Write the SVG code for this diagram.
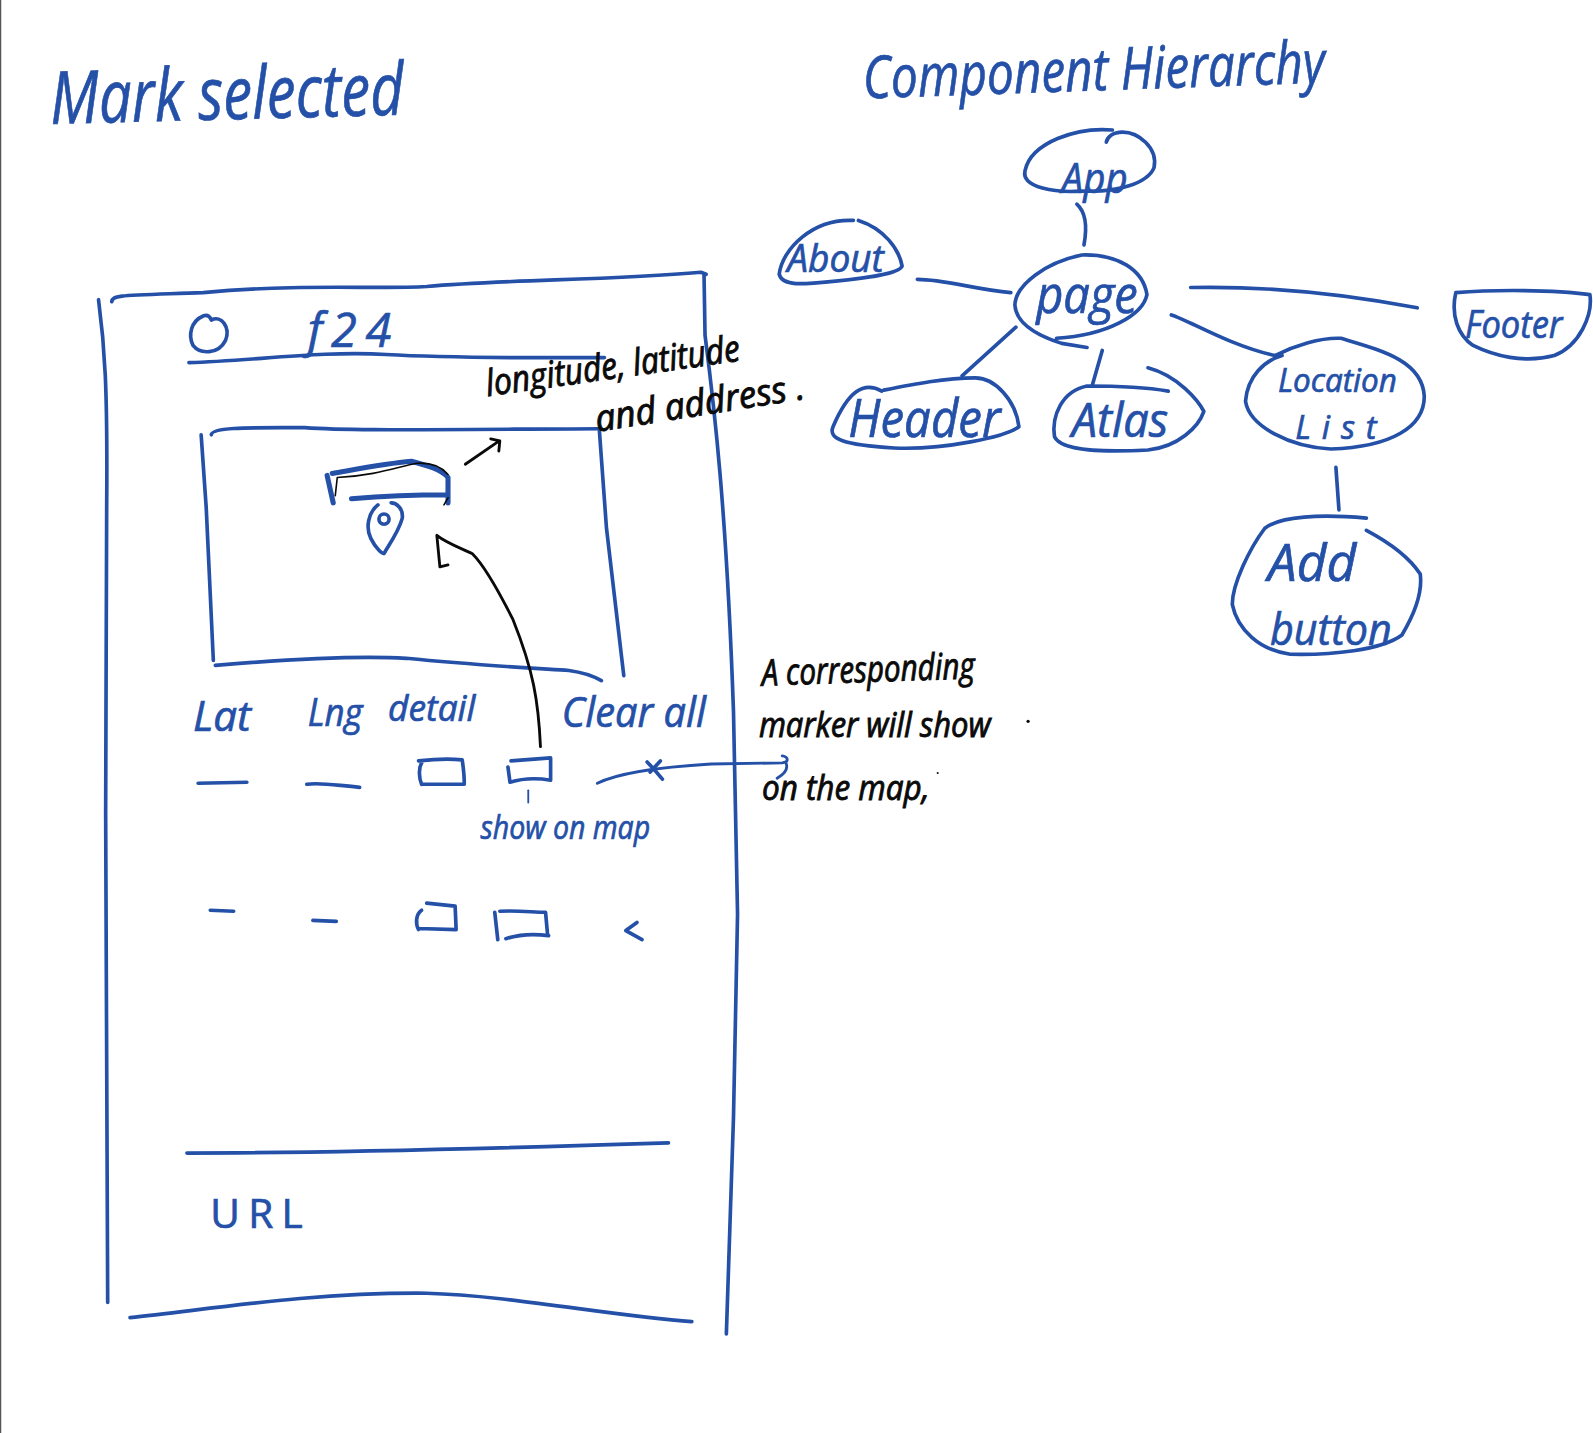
<svg xmlns="http://www.w3.org/2000/svg" width="1593" height="1433" viewBox="0 0 1593 1433">
<style>
.b{fill:none;stroke:#2450a8;stroke-width:3.6;stroke-linecap:round;stroke-linejoin:round}
.k{fill:none;stroke:#0a0a0a;stroke-width:2.8;stroke-linecap:round;stroke-linejoin:round}
text{font-family:"Open Sans","Noto Sans",sans-serif;font-style:italic;fill:#2450a8;stroke:#2450a8;stroke-width:.7;text-anchor:start}
text.t{fill:#0a0a0a;stroke:#0a0a0a;stroke-width:.9}
</style>
<rect width="1593" height="1433" fill="#ffffff"/>
<line x1="0.5" y1="0" x2="0.5" y2="1433" stroke="#555555" stroke-width="1.5"/>
<g transform="scale(1.0159)">
<g id="titles">
<text x="50" y="122" font-size="72" textLength="348" lengthAdjust="spacingAndGlyphs" transform="rotate(-1.5 50 122)">Mark selected</text>
<text x="850" y="97" font-size="58" textLength="455" lengthAdjust="spacingAndGlyphs" transform="rotate(-2 850 97)">Component Hierarchy</text>
</g>
<g id="wireframe">
<path class="b" d="M97 295C103 340 106 380 105 500L104 800L106 1282"/>
<path class="b" d="M110 297C111 290 120 291 200 288C300 279 370 285 420 282C500 275 600 276 690 268L695 270"/>
<path class="b" d="M693 270L694 330C703 400 715 500 722 700L726 900L722 1100L715 1313"/>
<path class="b" d="M128 1297C200 1290 300 1272 420 1273C500 1275 600 1295 681 1301"/>
<path class="b" d="M200 311C188 316 185 330 190 340C197 349 215 349 222 335C227 322 218 310 208 315C206 310 203 310 200 311"/>
<path class="b" d="M186 357C250 355 320 345 380 349C450 353 520 352 595 352"/>
<path class="b" d="M198 428L203 500L210 650"/>
<path class="b" d="M208 428C208 420 250 421 300 421C340 424 400 423 590 422"/>
<path class="b" d="M590 424L597 520L614 665"/>
<path class="b" d="M212 655C270 650 350 645 400 648C470 655 530 658 560 660C575 662 585 666 592 670"/>
<path class="b" style="stroke-width:5" d="M327 466C350 462 380 456 405 454C420 458 435 462 441 470L441 495M346 491C380 488 410 487 441 487M322 468L328 495"/>
<path class="b" d="M372 497C362 505 360 520 365 530C370 540 376 545 378 545C380 540 392 525 396 510C397 500 390 495 385 495"/>
<circle class="b" cx="378" cy="511" r="5"/>
<path class="b" d="M195 771L243 770M302 772C315 770 330 773 354 775"/>
<path class="b" d="M416 749C412 755 412 765 415 772M412 749C430 747 445 747 455 748C456 755 457 765 457 771M415 772L457 772"/>
<path class="b" d="M500 755L502 770M503 749L542 746L542 768M502 770C515 766 530 766 542 768"/>
<path class="b" style="stroke-width:1.8" d="M520 778L520 790"/>
<path class="b" d="M637 750C642 755 648 762 652 767M650 749L640 760"/>
<path class="b" d="M207 896L230 897M308 906L331 907"/>
<path class="b" d="M415 896C409 900 409 910 412 915M420 889L448 892L449 915M412 914L449 915"/>
<path class="b" d="M487 898L490 925M492 897C510 896 525 898 537 898L539 920M498 924C510 920 525 919 540 921"/>
<path class="b" d="M627 908L616 916L632 925"/>
<path class="b" d="M184 1135C300 1135 500 1130 658 1125"/>
<text x="303" y="342" font-size="46" textLength="82" lengthAdjust="spacing">f24</text>
<text x="190" y="720" font-size="42" textLength="57" lengthAdjust="spacingAndGlyphs">Lat</text>
<text x="303" y="715" font-size="38" textLength="54" lengthAdjust="spacingAndGlyphs">Lng</text>
<text x="382" y="710" font-size="36" textLength="86" lengthAdjust="spacingAndGlyphs">detail</text>
<text x="553" y="716" font-size="42" textLength="142" lengthAdjust="spacingAndGlyphs">Clear all</text>
<text x="473" y="826" font-size="32" textLength="167" lengthAdjust="spacingAndGlyphs">show on map</text>
<text x="207" y="1209" font-size="40" textLength="91" lengthAdjust="spacing" style="font-style:normal">URL</text>
</g>
<g id="annotations">
<path class="k" style="stroke-width:1.6" d="M330 488L332 470C370 468 390 460 410 456C425 455 435 460 441 467M441 490L437 497"/>
<path class="k" d="M458 457L490 435M483 432L492 434L491 444"/>
<path class="k" d="M532 735C530 690 525 660 505 610C490 580 475 555 465 545C455 540 440 535 430 527L433 558L441 556"/>
<path class="b" style="stroke-width:2.8" d="M588 771C610 760 650 755 700 752L770 751C777 750 776 745 770 744M774 752C776 758 772 762 765 766"/>
<text class="t" x="480" y="390" font-size="36" textLength="252" lengthAdjust="spacingAndGlyphs" transform="rotate(-8 480 390)">longitude, latitude</text>
<text class="t" x="588" y="425" font-size="36" textLength="208" lengthAdjust="spacingAndGlyphs" transform="rotate(-9 588 425)">and address .</text>
<text class="t" x="750" y="675" font-size="36" textLength="210" lengthAdjust="spacingAndGlyphs" transform="rotate(-2 750 675)">A corresponding</text>
<text class="t" x="747" y="725" font-size="34" textLength="228" lengthAdjust="spacingAndGlyphs">marker will show</text>
<text class="t" x="750" y="787" font-size="34" textLength="165" lengthAdjust="spacingAndGlyphs">on the map,</text>
<circle cx="1012" cy="710" r="1.6" fill="#0a0a0a"/>
<circle cx="923" cy="761" r="1" fill="#0a0a0a"/>
</g>
<g id="connectors">
<path class="b" d="M1060 201C1070 210 1070 225 1067 241"/>
<path class="b" d="M903 275C930 275 960 285 995 288"/>
<path class="b" d="M1000 322L947 370"/>
<path class="b" d="M1085 345L1075 380"/>
<path class="b" d="M1172 283C1220 282 1300 285 1395 303"/>
<path class="b" d="M1153 310C1170 315 1210 340 1255 350"/>
<path class="b" d="M1315 460L1318 502"/>
</g>
<g id="node-app">
<path class="b" d="M1095 128C1060 125 1015 140 1009 168C1005 185 1040 190 1065 188C1100 190 1130 180 1136 165C1140 145 1120 130 1105 130C1095 130 1090 135 1089 140"/>
<text x="1045" y="190" font-size="42" textLength="65" lengthAdjust="spacingAndGlyphs">App</text>
</g>
<g id="node-about">
<path class="b" d="M840 217C800 215 770 245 767 270C770 282 790 280 820 277C850 274 885 270 888 262C885 245 870 225 845 217"/>
<text x="775" y="268" font-size="38" textLength="95" lengthAdjust="spacingAndGlyphs">About</text>
</g>
<g id="node-page">
<path class="b" d="M1065 251C1030 258 1000 280 999 300C1000 318 1020 330 1045 338L1070 342M1040 333C1090 330 1125 310 1129 290C1125 265 1100 250 1065 251"/>
<text x="1020" y="308" font-size="50" textLength="100" lengthAdjust="spacingAndGlyphs">page</text>
</g>
<g id="node-header">
<path class="b" d="M868 385C850 375 835 385 820 420C815 432 830 438 880 441C930 443 990 430 1003 420C1000 395 980 372 960 372C930 372 900 378 870 384"/>
<text x="835" y="430" font-size="52" textLength="150" lengthAdjust="spacingAndGlyphs">Header</text>
</g>
<g id="node-atlas">
<path class="b" d="M1130 362C1160 370 1180 395 1185 405C1180 420 1160 440 1130 443C1090 445 1045 445 1038 430C1035 410 1045 385 1070 380C1090 380 1120 380 1150 385"/>
<text x="1055" y="430" font-size="46" textLength="95" lengthAdjust="spacingAndGlyphs">Atlas</text>
</g>
<g id="node-location-list">
<path class="b" d="M1255 350C1275 340 1300 332 1320 333C1360 345 1400 355 1402 390C1402 420 1370 440 1310 442C1270 440 1230 420 1226 395C1228 370 1245 355 1262 350"/>
<text x="1258" y="386" font-size="32" textLength="117" lengthAdjust="spacingAndGlyphs">Location</text>
<text x="1275" y="432" font-size="32" textLength="80" lengthAdjust="spacing">List</text>
</g>
<g id="node-add-button">
<path class="b" d="M1345 510C1300 506 1260 508 1245 520C1230 540 1213 575 1213 595C1218 620 1240 640 1270 644C1310 645 1360 640 1380 625C1395 600 1400 580 1398 565C1385 545 1360 530 1345 522"/>
<text x="1248" y="572" font-size="50" textLength="87" lengthAdjust="spacingAndGlyphs">Add</text>
<text x="1250" y="635" font-size="44" textLength="120" lengthAdjust="spacingAndGlyphs">button</text>
</g>
<g id="node-footer">
<path class="b" d="M1433 288C1470 285 1530 285 1565 290C1568 310 1555 340 1530 350C1500 358 1470 350 1450 340C1435 330 1428 310 1433 288"/>
<text x="1442" y="333" font-size="38" textLength="96" lengthAdjust="spacingAndGlyphs">Footer</text>
</g>
</g>
</svg>
